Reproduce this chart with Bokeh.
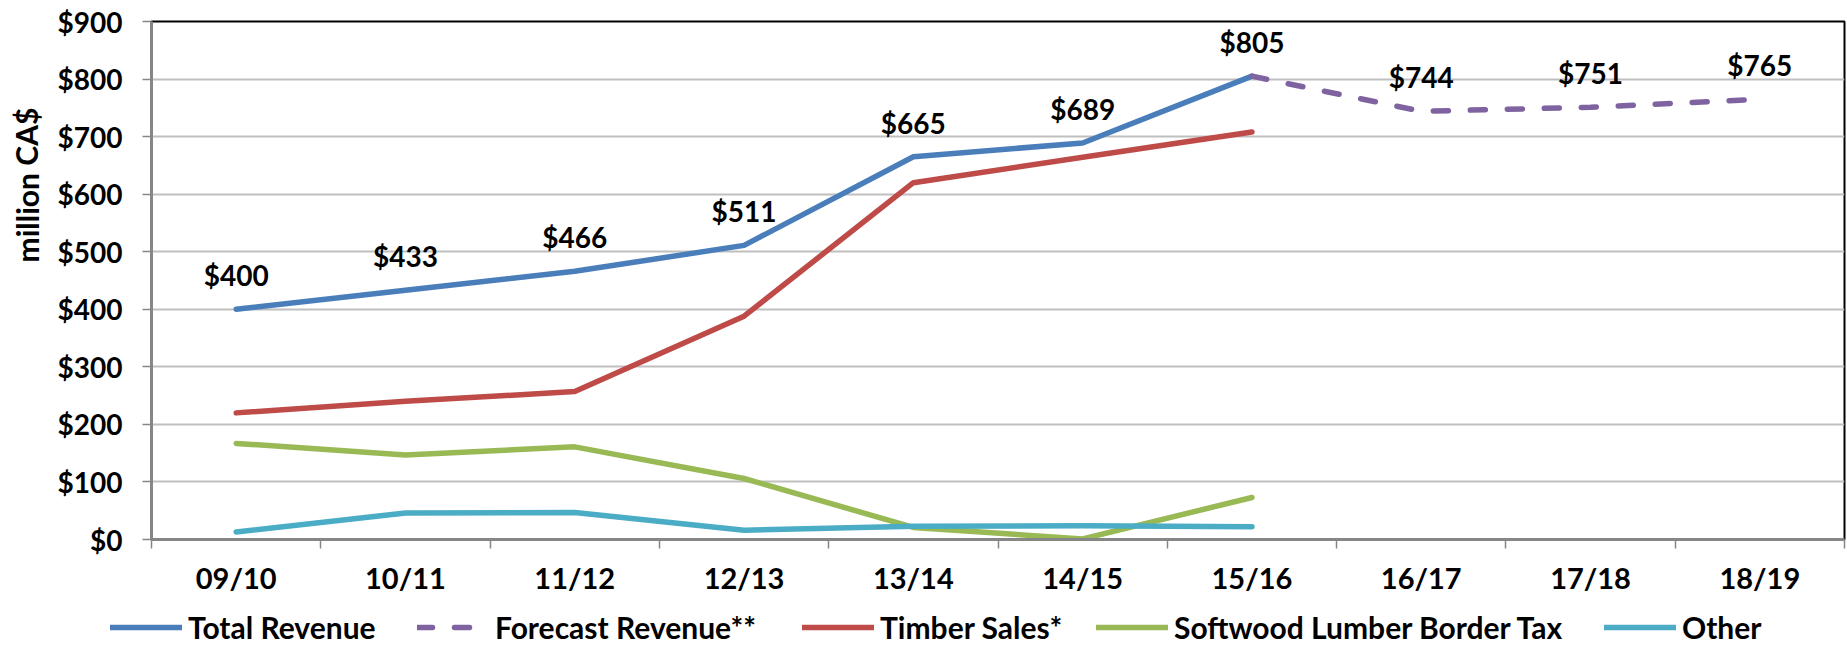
from bokeh.plotting import figure
from bokeh.models import (Range1d, FixedTicker, NumeralTickFormatter, Legend,
                          LegendItem, Label, ColumnDataSource)
from bokeh.layouts import column, row
from bokeh.core.properties import value
from bokeh.embed import file_html
from bokeh.resources import INLINE

# ---------------- data ----------------
years = ["09/10", "10/11", "11/12", "12/13", "13/14", "14/15", "15/16",
         "16/17", "17/18", "18/19"]
total_revenue = [400, 433, 466, 511, 665, 689, 805]          # 09/10 .. 15/16
forecast_years = ["15/16", "16/17", "17/18", "18/19"]
forecast_revenue = [805, 744, 751, 765]
timber_sales = [220, 240, 257, 388, 620, 664, 708]
softwood_tax = [167, 147, 161, 106, 21, 1, 73]
other = [13, 46, 47, 16, 23, 24, 22]
y_ticks = [0, 100, 200, 300, 400, 500, 600, 700, 800, 900]
series_names = ["Total Revenue", "Forecast Revenue**", "Timber Sales*",
                "Softwood Lumber Border Tax", "Other"]
y_title = "million CA$"

FONT = "Lato"
pos = {y: i + 0.5 for i, y in enumerate(years)}

actual_years = years[:len(total_revenue)]
x_act = [pos[y] for y in actual_years]
x_fc = [pos[y] for y in forecast_years]

C_TOTAL = "#4A7EBB"
C_FC = "#7F63A1"
C_TIMBER = "#BE4B48"
C_SOFT = "#98B954"
C_OTHER = "#4AACC5"
styles = [
    dict(line_color=C_TOTAL),
    dict(line_color=C_FC, line_dash="15 22"),
    dict(line_color=C_TIMBER),
    dict(line_color=C_SOFT),
    dict(line_color=C_OTHER),
]
LW = 5.5

# ---------------- main chart ----------------
MAIN_H = 605
p = figure(width=1802, height=MAIN_H, output_backend="svg", toolbar_location=None,
           x_range=Range1d(0, len(years)), y_range=Range1d(0, 900),
           min_border_left=106, min_border_right=3, min_border_top=21,
           min_border_bottom=66)
p.background_fill_color = "white"
p.border_fill_color = "white"
p.outline_line_color = "black"
p.outline_line_width = 2

series_y = [total_revenue, forecast_revenue, timber_sales, softwood_tax, other]
series_x = [x_act, x_fc, x_act, x_act, x_act]
for xs, ys, st in zip(series_x, series_y, styles):
    p.line(xs, ys, line_width=LW, line_join="round", line_cap="round", **st)

# data labels
lab_x = x_act + x_fc[1:]
lab_y = total_revenue + forecast_revenue[1:]
lab_t = ["$" + str(v) for v in lab_y]
src = ColumnDataSource(dict(x=lab_x, y=lab_y, t=lab_t))
p.text(x="x", y="y", text="t", source=src, y_offset=-34, text_align="center",
       text_baseline="middle", text_font=value(FONT), text_font_style="bold",
       text_font_size="28px", text_color="black")

# grid & axes
p.xgrid.visible = False
p.ygrid.ticker = FixedTicker(ticks=y_ticks)
p.ygrid.grid_line_color = "#BFBFBF"
p.ygrid.grid_line_width = 2

xa = p.xaxis[0]
xa.ticker = FixedTicker(ticks=[pos[y] for y in years],
                        minor_ticks=list(range(len(years) + 1)))
xa.major_label_overrides = {pos[y]: y for y in years}
xa.major_tick_line_color = None
xa.major_tick_out = 0
xa.major_tick_in = 0
xa.minor_tick_out = 9
xa.minor_tick_in = 0
xa.minor_tick_line_color = "#868686"
xa.minor_tick_line_width = 1.5
xa.axis_line_color = "#868686"
xa.axis_line_width = 3
xa.major_label_standoff = 11
xa.major_label_text_font = FONT
xa.major_label_text_font_style = "bold"
xa.major_label_text_font_size = "29px"
xa.major_label_text_color = "black"

ya = p.yaxis[0]
ya.ticker = FixedTicker(ticks=y_ticks)
ya.formatter = NumeralTickFormatter(format="$0,0")
ya.axis_line_color = "#868686"
ya.axis_line_width = 3
ya.major_tick_out = 9
ya.major_tick_in = 0
ya.major_tick_line_color = "#868686"
ya.major_tick_line_width = 1.5
ya.minor_tick_line_color = None
ya.major_label_standoff = 20
ya.major_label_text_font = FONT
ya.major_label_text_font_style = "bold"
ya.major_label_text_font_size = "28px"
ya.major_label_text_color = "black"

# ---------------- y title strip (left) ----------------
TW = 45
pt = figure(width=TW, height=MAIN_H, output_backend="svg", toolbar_location=None,
            x_range=Range1d(0, TW), y_range=Range1d(0, MAIN_H),
            x_axis_location=None, y_axis_location=None, min_border=0)
pt.outline_line_color = None
pt.grid.visible = False
pt.add_layout(Label(x=26, y=MAIN_H - 191, text=y_title, angle=1.5708,
                    text_align="center", text_baseline="middle",
                    text_font=FONT, text_font_style="bold",
                    text_font_size="30px", text_color="black"))

# ---------------- legend strip (bottom) ----------------
LEG_H = 40
pl = figure(width=TW + 1802, height=LEG_H, output_backend="svg",
            toolbar_location=None, x_range=Range1d(0, 1), y_range=Range1d(0, 1),
            x_axis_location=None, y_axis_location=None, min_border=0)
pl.outline_line_color = None
pl.grid.visible = False
leg_x = [110, 417, 802, 1096, 1604]
nan = float("nan")
for name, st, lx in zip(series_names, styles, leg_x):
    # invisible placeholder renderer, only used for its legend swatch
    r = pl.line(x=[nan], y=[nan], line_width=LW, line_cap="round", **st)
    pl.add_layout(Legend(
        items=[LegendItem(label=name, renderers=[r])],
        location=(lx, 0), orientation="horizontal",
        glyph_width=72, glyph_height=24, label_standoff=6, padding=0,
        margin=0, border_line_color=None, background_fill_alpha=0,
        label_text_font=FONT, label_text_font_style="bold",
        label_text_font_size="30px", label_text_color="black"), "center")

layout = column(row(pt, p, spacing=0), pl, spacing=0)
open("out.html", "w").write(file_html(layout, INLINE))
